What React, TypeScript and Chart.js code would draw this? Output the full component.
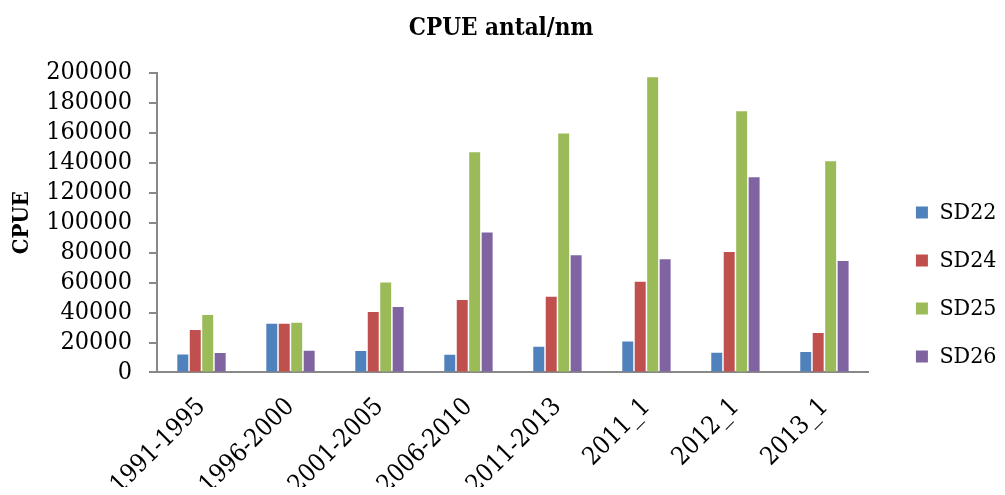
import React, { useEffect, useRef } from "react";
import { Chart, registerables } from "chart.js";

Chart.register(...registerables);

const categories = ["1991-1995", "1996-2000", "2001-2005", "2006-2010", "2011-2013", "2011_1", "2012_1", "2013_1"];
const sd22 = [12000, 32500, 14300, 11800, 17200, 20700, 13200, 13600];
const sd24 = [28300, 32500, 40300, 48400, 50600, 60600, 80400, 26300];
const sd25 = [38300, 33200, 60000, 147000, 159500, 197000, 174400, 141000];
const sd26 = [13000, 14500, 43700, 93500, 78200, 75500, 130300, 74400];
const seriesNames = ["SD22", "SD24", "SD25", "SD26"];
const seriesColors = ["#4F81BD", "#C0504D", "#9BBB59", "#8064A2"];
const yTicksMax = 200000;
const yTickStep = 20000;

const FONT = "'DejaVu Serif Condensed', 'DejaVu Serif', 'Liberation Serif', serif";

export default function App() {
  const ref = useRef<HTMLCanvasElement | null>(null);
  useEffect(() => {
    if (!ref.current) return;
    const values = [sd22, sd24, sd25, sd26];
    const chart = new Chart(ref.current, {
      type: "bar",
      data: {
        labels: categories,
        datasets: values.map((v, i) => ({
          label: seriesNames[i],
          data: v,
          backgroundColor: seriesColors[i],
          borderWidth: 0,
          barPercentage: 0.88,
          categoryPercentage: 0.56,
        })),
      },
      options: {
        animation: false,
        responsive: false,
        maintainAspectRatio: false,
        layout: { padding: { left: -12.5, right: -9.5, top: 0, bottom: -25 } },
        plugins: {
          tooltip: { enabled: false },
          title: {
            display: true,
            text: "CPUE antal/nm",
            color: "#000",
            font: { family: FONT, size: 24, weight: "bold" },
            padding: { top: 6, bottom: 30 },
          },
          legend: {
            position: "right",
            align: "center",
            title: {
              display: true,
              text: "",
              font: { size: 1 },
              padding: { top: 0, bottom: 48 },
            },
            labels: {
              boxWidth: 12,
              boxHeight: 12,
              color: "#000",
              font: { family: FONT, size: 23 },
              padding: 25,
            },
          },
        },
        scales: {
          x: {
            grid: { display: false },
            border: { display: true, color: "#888888", width: 2 },
            ticks: {
              color: "#000",
              font: { family: FONT, size: 25 },
              maxRotation: 45,
              minRotation: 45,
              padding: 12,
              autoSkip: false,
            },
          },
          y: {
            min: 0,
            max: yTicksMax,
            afterFit: (s: any) => {
              s.width = 161.5;
            },
            grid: {
              drawOnChartArea: false,
              drawTicks: true,
              tickLength: 8,
              color: "#888888",
              lineWidth: 2,
            },
            border: { display: true, color: "#888888", width: 2 },
            ticks: {
              stepSize: yTickStep,
              autoSkip: false,
              color: "#000",
              font: { family: FONT, size: 25 },
              padding: 17,
              callback: (v: any) => String(v),
            },
            title: {
              display: true,
              text: "CPUE",
              color: "#000",
              font: { family: FONT, size: 22, weight: "bold" },
              padding: { top: 13.5, bottom: 0 },
            },
          },
          yGap: {
            type: "linear",
            position: "right",
            display: true,
            grid: { display: false, drawTicks: false },
            border: { display: false },
            ticks: { display: false },
            afterFit: (s: any) => {
              s.width = 22;
            },
          },
        },
      },
    });
    return () => chart.destroy();
  }, []);
  return (
    <div style={{ width: 989, height: 479 }}>
      <canvas ref={ref} width={989} height={479} style={{ display: "block" }} />
    </div>
  );
}
